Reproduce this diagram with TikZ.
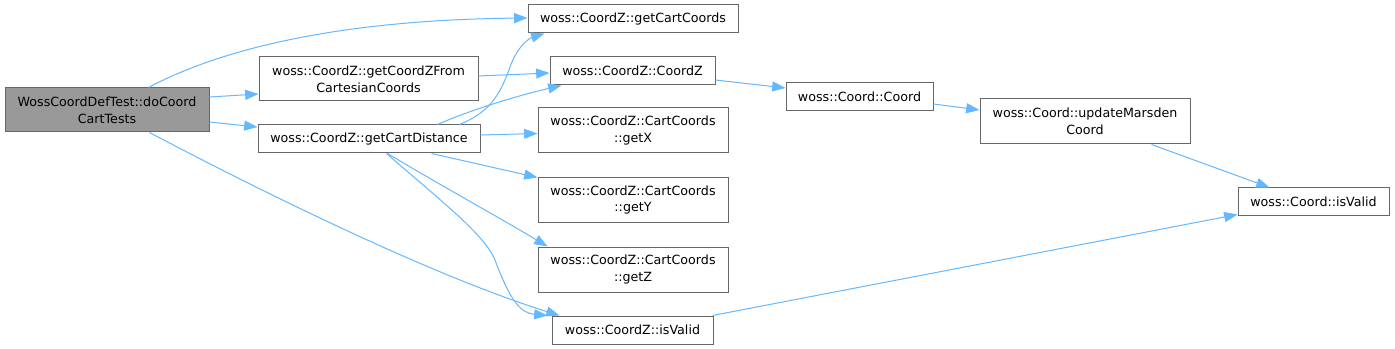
\documentclass[tikz,border=0pt]{standalone}
\usepackage{fontspec}
\setmainfont{DejaVu Sans}
\usetikzlibrary{arrows.meta,calc}
\definecolor{edgec}{HTML}{63B8FF}
\definecolor{boxc}{HTML}{666666}
\definecolor{mainfill}{HTML}{999999}
\begin{document}
\begin{tikzpicture}[x=0.75pt,y=-0.75pt,
 box/.style={draw=boxc, line width=0.75pt, fill=white, inner sep=0pt, align=center, font=\fontsize{9.5}{12.5}\selectfont},
 sz/.style 2 args={minimum width=#1*0.75pt, minimum height=#2*0.75pt},
 edge/.style={draw=edgec, line width=0.75pt, -{Triangle[length=10pt,width=7.5pt]}}]
\useasboundingbox (0,0) rectangle (1395,349);
\fill[white] (0,0) rectangle (1395,349);
% nodes
\node[box, fill=mainfill, sz={204}{44}] (main) at (107,110) {WossCoordDefTest::doCoord\\CartTests};
\node[box, sz={219}{44}] (gcz) at (368.5,79) {woss::CoordZ::getCoordZFrom\\CartesianCoords};
\node[box, sz={222}{28}] (gcd) at (369,139) {woss::CoordZ::getCartDistance};
\node[box, sz={210}{28}] (gcc) at (633,19) {woss::CoordZ::getCartCoords};
\node[box, sz={165}{28}] (cz) at (632.5,71) {woss::CoordZ::CoordZ};
\node[box, sz={190}{45}] (gx) at (633,130.5) {woss::CoordZ::CartCoords\\::getX};
\node[box, sz={190}{44}] (gy) at (633,200) {woss::CoordZ::CartCoords\\::getY};
\node[box, sz={190}{45}] (gz) at (633,269.5) {woss::CoordZ::CartCoords\\::getZ};
\node[box, sz={161}{28}] (cziv) at (632.5,330) {woss::CoordZ::isValid};
\node[box, sz={147}{28}] (cc) at (859.5,97) {woss::Coord::Coord};
\node[box, sz={210}{45}] (um) at (1085,121.5) {woss::Coord::updateMarsden\\Coord};
\node[box, sz={151}{27}] (civ) at (1313.5,201.5) {woss::Coord::isValid};
% edges
\draw[edge] ($(main.north west)+(144,0)$) .. controls (215,52) and (330,20) .. ($(gcc.west)+(0,-1)$);
\draw[edge] ($(main.east)+(0,-13)$) -- ($(gcz.west)+(0,15)$);
\draw[edge] ($(main.east)+(0,12)$) -- ($(gcd.west)+(0,-12)$);
\draw[edge] ($(main.south west)+(145,0)$) .. controls (230,175) and (420,272) .. ($(cziv.north west)+(8,0)$);
\draw[edge] ($(gcz.east)+(0,-3)$) -- ($(cz.west)+(0,2)$);
\draw[edge] ($(gcd.north west)+(202,0)$) .. controls (490,112) and (500,95) .. (510,67) .. controls (518,45) and (530,38) .. ($(gcc.south west)+(17,0)$);
\draw[edge] ($(gcd.north west)+(180,0)$) .. controls (470,110) and (520,95) .. ($(cz.south west)+(12,0)$);
\draw[edge] ($(gcd.east)+(0,-4)$) -- ($(gx.west)+(0,3)$);
\draw[edge] ($(gcd.south west)+(174,0)$) -- (gy.north west);
\draw[edge] ($(gcd.south west)+(130,0)$) .. controls (440,185) and (500,218) .. ($(gz.north west)+(10,0)$);
\draw[edge] ($(gcd.south west)+(129,0)$) .. controls (440,200) and (485,235) .. (495,260) .. controls (510,300) and (520,313) .. ($(cziv.north west)+(-4,0)$);
\draw[edge] ($(cz.east)+(0,9)$) -- ($(cc.west)+(0,-9)$);
\draw[edge] ($(cc.east)+(0,7)$) -- ($(um.west)+(0,-11.5)$);
\draw[edge] ($(um.south west)+(172,0)$) -- ($(civ.north west)+(32,0)$);
\draw[edge] ($(cziv.north east)+(-1,0)$) -- ($(civ.south west)+(0,-1)$);
\end{tikzpicture}
\end{document}
